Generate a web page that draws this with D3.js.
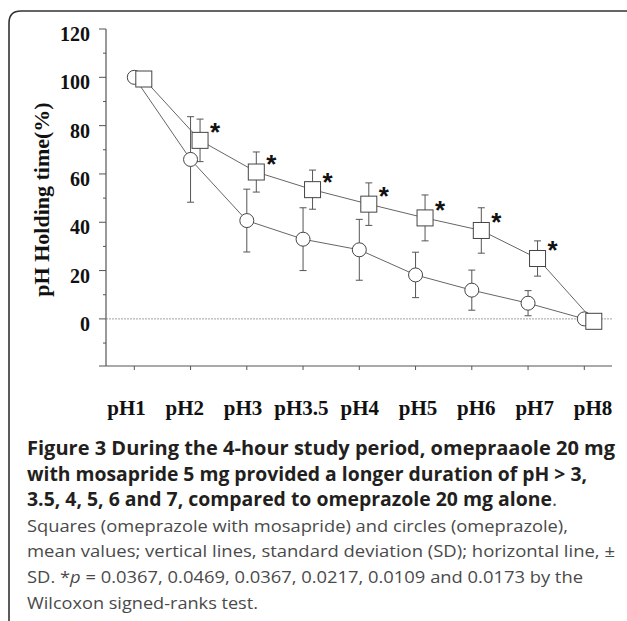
<!DOCTYPE html>
<html lang="en">
<head>
<meta charset="UTF-8">
<script src="https://d3js.org/d3.v7.min.js"></script>
<title>pH holding time</title>
<style>
  body { margin: 0; background: #fff; }
</style>
</head>
<body>
<script>
// values
var categories = ["pH1", "pH2", "pH3", "pH3.5", "pH4", "pH5", "pH6", "pH7", "pH8"];
var omeMean = [100, 66, 40.7, 33, 28.6, 18.2, 11.9, 6.5, 0];
var omeSD   = [0, 17.7, 13, 13, 12.6, 9.4, 8.3, 5.2, 0];
var mosMean = [99.3, 73.9, 60.8, 53.5, 47.5, 41.8, 36.6, 25, -1];
var mosSD   = [0, 8.8, 8.3, 8.1, 8.8, 9.5, 9.4, 7.3, 0];
var signif  = [false, true, true, true, true, true, true, true, false];
var yTicks = [0, 20, 40, 60, 80, 100, 120];

var captionLines = [
  { w: 588, parts: [["Figure 3 During the 4-hour study period, omepraaole 20 mg", "b"]] },
  { w: 560, parts: [["with mosapride 5 mg provided a longer duration of pH > 3,", "b"]] },
  { w: 530, parts: [["3.5, 4, 5, 6 and 7, compared to omeprazole 20 mg alone", "b"], [".", "r"]] },
  { w: 541, parts: [["Squares (omeprazole with mosapride) and circles (omeprazole),", "r"]] },
  { w: 588, parts: [["mean values; vertical lines, standard deviation (SD); horizontal line, \u00b1", "r"]] },
  { w: 556, parts: [["SD. *", "r"], ["p", "i"], [" = 0.0367, 0.0469, 0.0367, 0.0217, 0.0109 and 0.0173 by the", "r"]] },
  { w: 231, parts: [["Wilcoxon signed-ranks test.", "r"]] }
];

var W = 627, H = 621;
var svg = d3.select("body").append("svg")
    .attr("width", W)
    .attr("height", H);

// frame with rounded corner
svg.append("path")
    .attr("d", "M9,621 V23 Q9,11 21,11 H627")
    .attr("fill", "none")
    .attr("stroke", "#333")
    .attr("stroke-width", 1.6);

var x = d3.scalePoint().domain(categories).range([134.3, 584.3]);
var xLab = d3.scalePoint().domain(categories).range([126.5, 593]);
var y = d3.scaleLinear().domain([-19.5, 120]).range([366, 29]);
var axX = 106, sqOff = 9.5;

var serif = "'Liberation Serif', 'Times New Roman', serif";
var axisCol = "#555";

// y axis
svg.append("line").attr("x1", axX).attr("x2", axX).attr("y1", y(120)).attr("y2", y(-19.5))
    .attr("stroke", axisCol).attr("stroke-width", 1.2);
svg.selectAll(".ymin").data(d3.range(-10, 120, 20)).enter().append("line")
    .attr("x1", axX - 3).attr("x2", axX)
    .attr("y1", function(d) { return y(d); }).attr("y2", function(d) { return y(d); })
    .attr("stroke", axisCol).attr("stroke-width", 1);
svg.selectAll(".ymaj").data(yTicks).enter().append("line")
    .attr("x1", axX - 7).attr("x2", axX)
    .attr("y1", function(d) { return y(d); }).attr("y2", function(d) { return y(d); })
    .attr("stroke", axisCol).attr("stroke-width", 1);
svg.selectAll(".ylab").data(yTicks).enter().append("text")
    .attr("x", 90)
    .attr("y", function(d) { return y(d) + 12; })
    .attr("text-anchor", "end")
    .attr("font-family", serif).attr("font-weight", "bold").attr("font-size", 20)
    .attr("fill", "#111")
    .text(function(d) { return d; });

svg.append("text")
    .attr("transform", "translate(49,199.5) rotate(-90)")
    .attr("text-anchor", "middle")
    .attr("font-family", serif).attr("font-weight", "bold").attr("font-size", 22)
    .attr("fill", "#111")
    .text("pH Holding time(%)");

// x axis
svg.append("line").attr("x1", 99).attr("x2", 612).attr("y1", 366).attr("y2", 366)
    .attr("stroke", axisCol).attr("stroke-width", 1.2);
svg.selectAll(".xt").data(categories).enter().append("line")
    .attr("x1", function(d) { return x(d); }).attr("x2", function(d) { return x(d); })
    .attr("y1", 366).attr("y2", 370)
    .attr("stroke", axisCol).attr("stroke-width", 1);
svg.selectAll(".xlab").data(categories).enter().append("text")
    .attr("x", function(d) { return xLab(d); })
    .attr("y", 415)
    .attr("text-anchor", "middle")
    .attr("font-family", serif).attr("font-weight", "bold").attr("font-size", 21)
    .attr("fill", "#111")
    .text(function(d) { return d; });

// zero reference line
svg.append("line").attr("x1", axX).attr("x2", 612).attr("y1", y(0)).attr("y2", y(0))
    .attr("stroke", "#888").attr("stroke-width", 0.8).attr("stroke-dasharray", "2,1");

function series(means, sds, off) {
  return categories.map(function(c, i) {
    return { c: c, x: x(c) + off, m: means[i], sd: sds[i], sig: signif[i] };
  });
}
var ome = series(omeMean, omeSD, 0);
var mos = series(mosMean, mosSD, sqOff);

var line = d3.line().x(function(d) { return d.x; }).y(function(d) { return y(d.m); });
[ome, mos].forEach(function(s) {
  svg.append("path").datum(s).attr("d", line)
      .attr("fill", "none").attr("stroke", "#666").attr("stroke-width", 1);
});

function errorBars(s) {
  var g = svg.append("g").attr("stroke", "#555").attr("stroke-width", 1);
  var e = s.filter(function(d) { return d.sd > 0; });
  g.selectAll(".v").data(e).enter().append("line")
      .attr("x1", function(d) { return d.x; }).attr("x2", function(d) { return d.x; })
      .attr("y1", function(d) { return y(d.m + d.sd); }).attr("y2", function(d) { return y(d.m - d.sd); });
  g.selectAll(".t").data(e).enter().append("line")
      .attr("x1", function(d) { return d.x - 3.5; }).attr("x2", function(d) { return d.x + 3.5; })
      .attr("y1", function(d) { return y(d.m + d.sd); }).attr("y2", function(d) { return y(d.m + d.sd); });
  g.selectAll(".b").data(e).enter().append("line")
      .attr("x1", function(d) { return d.x - 3.5; }).attr("x2", function(d) { return d.x + 3.5; })
      .attr("y1", function(d) { return y(d.m - d.sd); }).attr("y2", function(d) { return y(d.m - d.sd); });
}
errorBars(ome);
errorBars(mos);

svg.selectAll(".circ").data(ome).enter().append("circle")
    .attr("cx", function(d) { return d.x; })
    .attr("cy", function(d) { return y(d.m); })
    .attr("r", 7)
    .attr("fill", "#fff").attr("stroke", "#444").attr("stroke-width", 1);

svg.selectAll(".sq").data(mos).enter().append("rect")
    .attr("x", function(d) { return d.x - 8; })
    .attr("y", function(d) { return y(d.m) - 8; })
    .attr("width", 16).attr("height", 16)
    .attr("fill", "#fff").attr("stroke", "#444").attr("stroke-width", 1);

svg.selectAll(".star").data(mos.filter(function(d) { return d.sig; })).enter().append("text")
    .attr("x", function(d) { return d.x + 15; })
    .attr("y", function(d) { return y(d.m) - 14 + 15; })
    .attr("text-anchor", "middle")
    .attr("font-family", "'Liberation Sans', Arial, sans-serif")
    .attr("font-weight", "bold").attr("font-size", 26)
    .attr("fill", "#111")
    .text("*");

// caption
var cap = svg.append("g").attr("font-family", "'Open Sans', sans-serif");
captionLines.forEach(function(l, i) {
  var bold = l.parts[0][1] === "b";
  var t = cap.append("text")
      .attr("x", 27)
      .attr("y", 455 + i * 25.6)
      .attr("font-size", bold ? 19.5 : 17)
      .attr("textLength", l.w)
      .attr("lengthAdjust", "spacingAndGlyphs");
  l.parts.forEach(function(p) {
    t.append("tspan")
        .attr("font-weight", p[1] === "b" ? "bold" : "normal")
        .attr("font-style", p[1] === "i" ? "italic" : "normal")
        .attr("fill", p[1] === "b" ? "#231f20" : "#4a4a4a")
        .text(p[0]);
  });
});
</script>
</body>
</html>
